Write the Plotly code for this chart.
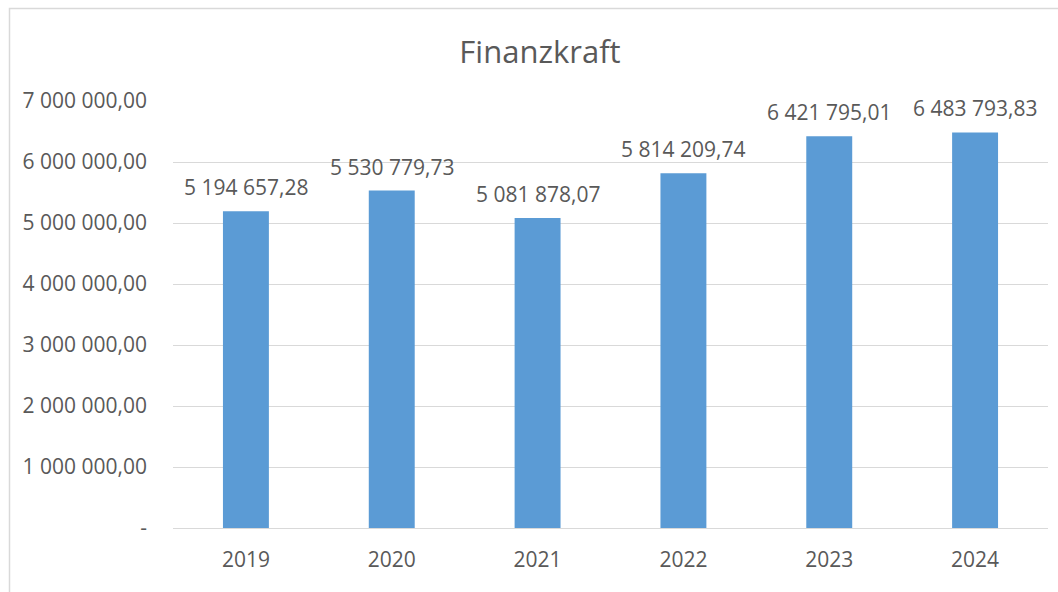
import plotly.graph_objects as go

years = ["2019", "2020", "2021", "2022", "2023", "2024"]
values = [5194657.28, 5530779.73, 5081878.07, 5814209.74, 6421795.01, 6483793.83]
value_labels = ["5 194 657,28", "5 530 779,73", "5 081 878,07", "5 814 209,74", "6 421 795,01", "6 483 793,83"]
tick_vals = [0, 1e6, 2e6, 3e6, 4e6, 5e6, 6e6, 7e6]
tick_text = ["-", "1 000 000,00", "2 000 000,00", "3 000 000,00", "4 000 000,00",
             "5 000 000,00", "6 000 000,00", "7 000 000,00"]

TXT = "#595959"
FONT = "Open Sans"

W, H = 1058, 592
L, R, T, B = 173, 10, 101, 64
pw, ph = W - L - R, H - T - B

fig = go.Figure()
fig.add_trace(go.Bar(x=years, y=values, marker=dict(color="#5B9BD5", line=dict(width=0)),
                     hoverinfo="skip"))

annotations = []
for i, (v, lab) in enumerate(zip(values, value_labels)):
    annotations.append(dict(x=i, y=v, text=lab, showarrow=False, xref="x", yref="y",
                            yanchor="bottom", yshift=8,
                            font=dict(family=FONT, size=21, color=TXT)))

fig.update_layout(
    width=W, height=H,
    margin=dict(l=L, r=R, t=T, b=B, autoexpand=False),
    paper_bgcolor="white", plot_bgcolor="white",
    bargap=0.685,
    showlegend=False,
    title=dict(text="Finanzkraft", x=(540 - L) / pw, xref="paper", xanchor="center",
               y=1 - 52 / H, yref="container", yanchor="middle",
               font=dict(family=FONT, size=31, color=TXT)),
    annotations=annotations,
    xaxis=dict(type="category", range=[-0.5, len(years) - 0.5], showgrid=False,
               showline=False, ticks="", ticklabelstandoff=17, automargin=False,
               tickfont=dict(family=FONT, size=21, color=TXT)),
    yaxis=dict(range=[0, 7e6], tickvals=tick_vals, ticktext=tick_text, automargin=False,
               showgrid=True, gridcolor="#D9D9D9", gridwidth=1.3,
               zeroline=True, zerolinecolor="#D9D9D9", zerolinewidth=1.3,
               showline=False, ticks="", ticklabelstandoff=25,
               tickfont=dict(family=FONT, size=21, color=TXT)),
    shapes=[dict(type="rect", xref="paper", yref="paper",
                 x0=(9.5 - L) / pw, x1=(W + 20 - L) / pw,
                 y0=-(B + 20) / ph, y1=(H - B - 8.5) / ph,
                 line=dict(color="#D9D9D9", width=1.5), fillcolor="rgba(0,0,0,0)",
                 layer="below")],
)

fig.write_html("out.html", config={"displayModeBar": False},
               post_script="document.body.style.margin='0';")
